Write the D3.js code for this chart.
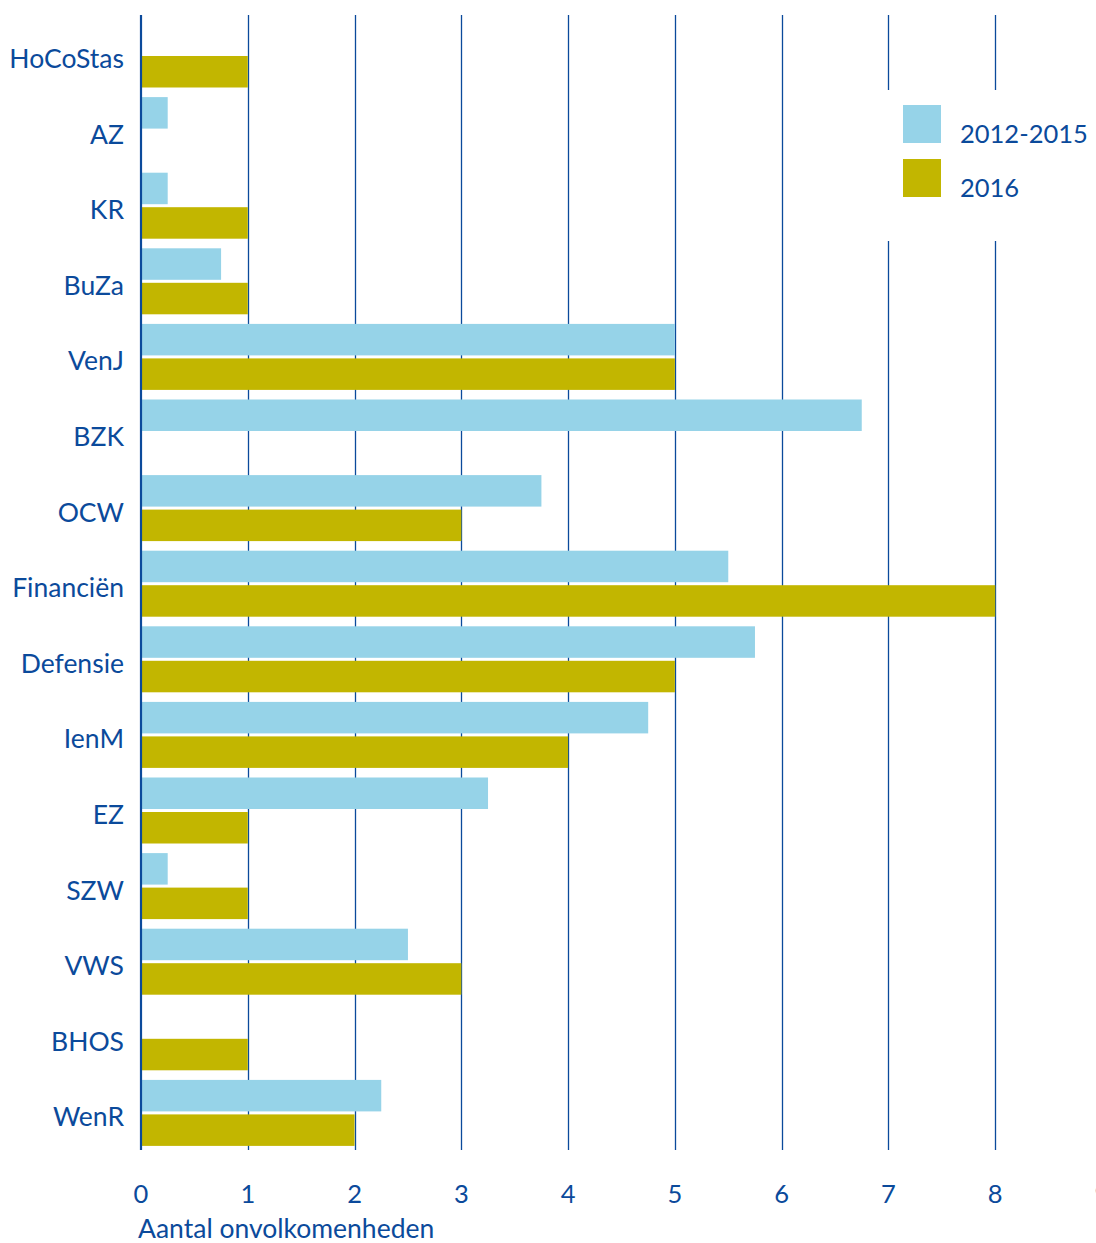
<!DOCTYPE html>
<html><head><meta charset="utf-8">
<script src="https://cdn.jsdelivr.net/npm/d3@7"></script>
<style>body{margin:0;background:#fff}svg{display:block}text{font-family:Lato,"Open Sans",sans-serif}</style>
</head><body>
<script>
const categories = ["HoCoStas","AZ","KR","BuZa","VenJ","BZK","OCW","Financiën","Defensie","IenM","EZ","SZW","VWS","BHOS","WenR"];
const series = ["2012-2015","2016"];
const values2012_2015 = [0,0.25,0.25,0.75,5,6.75,3.75,5.5,5.75,4.75,3.25,0.25,2.5,0,2.25];
const values2016 = [1,0,1,1,5,0,3,8,5,4,1,1,3,1,2];
const xTicks = [0,1,2,3,4,5,6,7,8,9];
const colors = ["#96d3e8","#c2b600"];
const textColor = "#0b4a9b";

const W=1096,H=1243;
const svg=d3.select("body").append("svg").attr("width",W).attr("height",H);
const x=d3.scaleLinear().domain([0,9]).range([141,1102]);
const y=d3.scaleBand().domain(categories).range([16.7,1150.7]).paddingInner(0.127).paddingOuter(0.0635);
const ys=d3.scaleBand().domain(series).range([0,y.bandwidth()]).paddingInner(0.087);

// gridlines
svg.append("g").selectAll("line").data(xTicks.filter(d=>d>0)).join("line")
 .attr("x1",d=>Math.round(x(d))+0.5).attr("x2",d=>Math.round(x(d))+0.5)
 .attr("y1",15).attr("y2",1150).attr("stroke",textColor).attr("stroke-width",1.3);

// legend background
svg.append("rect").attr("x",878).attr("y",90).attr("width",W-878).attr("height",151).attr("fill","#fff");

const data=categories.map((c,i)=>({c,vals:[values2012_2015[i],values2016[i]]}));
const g=svg.append("g").selectAll("g").data(data).join("g").attr("transform",d=>`translate(0,${y(d.c)})`);
g.selectAll("rect").data(d=>d.vals.map((v,j)=>({v,s:series[j],j}))).join("rect")
 .attr("x",x(0)).attr("y",d=>ys(d.s)).attr("height",ys.bandwidth())
 .attr("width",d=>x(d.v)-x(0)).attr("fill",d=>colors[d.j]);

// axis line
svg.append("line").attr("x1",x(0)).attr("x2",x(0)).attr("y1",15).attr("y2",1150).attr("stroke",textColor).attr("stroke-width",2.2);

// category labels
svg.append("g").selectAll("text").data(categories).join("text")
 .attr("x",124).attr("y",d=>y(d)+y.bandwidth()/2+13.5).attr("text-anchor","end")
 .attr("font-size",26.5).attr("fill",textColor).text(d=>d);

// x tick labels
svg.append("g").selectAll("text").data(xTicks).join("text")
 .attr("x",d=>x(d)).attr("y",1203).attr("text-anchor","middle")
 .attr("font-size",25.5).attr("fill",textColor).text(d=>d);

svg.append("text").attr("x",138).attr("y",1238).attr("font-size",26.5).attr("fill",textColor).text("Aantal onvolkomenheden");

// legend
const lg=svg.append("g").selectAll("g").data(series).join("g").attr("transform",(d,i)=>`translate(903,${105+i*54})`);
lg.append("rect").attr("width",38).attr("height",38).attr("fill",(d,i)=>colors[i]);
lg.append("text").attr("x",57).attr("y",38).attr("font-size",25.5).attr("fill",textColor).text(d=>d);
</script>
</body></html>
